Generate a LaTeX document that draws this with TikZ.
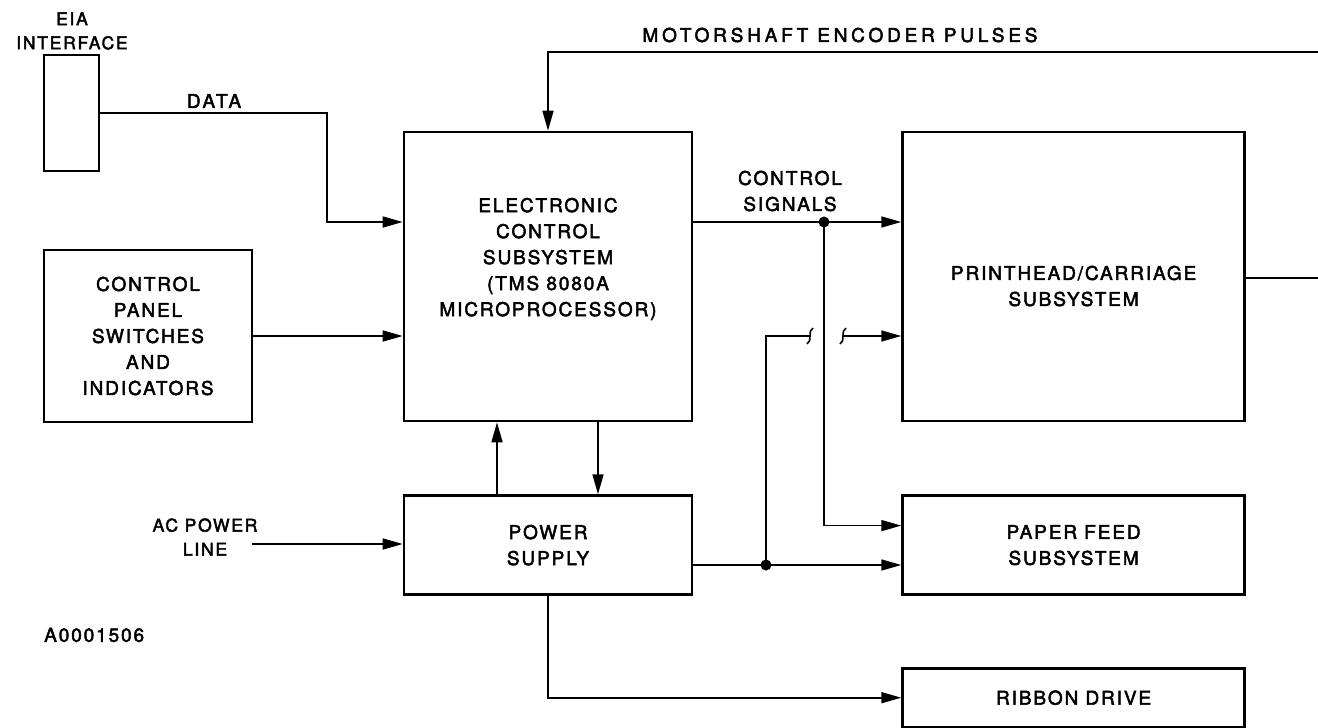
\documentclass[tikz,border=0pt]{standalone}
\usepackage{fontspec}
\setmainfont{TeX Gyre Heros}[LetterSpace=10, FakeBold=2.5]
\usetikzlibrary{arrows.meta, positioning}

\begin{document}
\begin{tikzpicture}[
    x=1pt, y=-1pt,
    font=\fontsize{19}{26}\selectfont,
    box/.style={
        draw,
        line width=2.6pt,
        align=center,
        inner sep=0pt
    },
    txt/.style={align=center, inner sep=0pt},
    small/.style={font=\fontsize{17.5}{24}\selectfont},
    arrow/.style={-{Triangle[length=20pt, width=11pt]}, line width=1.6pt},
    wire/.style={line width=1.6pt},
    node distance=74pt
]
\useasboundingbox (0,0) rectangle (1318,728);

% ------------------------
% Inputs (left)
% ------------------------
\node[box, minimum width=55pt, minimum height=116pt] (eia) at (71.5,113) {};
\node[txt, small] (eialabel) at (72,31) {EIA\\INTERFACE};

\node[box, minimum width=208pt, minimum height=172pt] (panel) at (148,336)
{CONTROL\\PANEL\\SWITCHES\\AND\\INDICATORS};

\node[txt, small] (acline) at (205,537) {AC POWER\\LINE};

% ------------------------
% Controller and power (middle)
% ------------------------
\node[box, minimum width=288pt, minimum height=289pt,
    label={[txt, yshift=17.5pt]center:{ELECTRONIC\\CONTROL\\SUBSYSTEM\\(TMS 8080A\\MICROPROCESSOR)}}
] (ecs) at (548,276.5) {};

\node[box, minimum width=288pt, minimum height=99pt, below=72pt of ecs] (power)
{POWER\\SUPPLY};

% ------------------------
% Mechanisms (right)
% ------------------------
\node[box, minimum width=342pt, minimum height=289pt, right=208pt of ecs,
    label={[txt, yshift=-9.5pt]center:{PRINTHEAD/CARRIAGE\\SUBSYSTEM}}
] (printhead) {};

\node[box, minimum width=342pt, minimum height=99pt, below=72pt of printhead] (paper)
{PAPER FEED\\SUBSYSTEM};

\node[box, minimum width=342pt, minimum height=59pt, below=71pt of paper] (ribbon)
{RIBBON DRIVE};

% ------------------------
% Labels
% ------------------------
\node[txt] (datalabel) at (214,101) {\addfontfeature{LetterSpace=14}DATA};
\node[txt] (ctllabel) at (790,191) {CONTROL\\SIGNALS};
\node[txt] (enclabel) at (840,35) {\addfontfeature{LetterSpace=20}MOTORSHAFT ENCODER PULSES};
\node[txt, anchor=west] (figid) at (44,635) {A0001506};

% ------------------------
% Arrows
% ------------------------
\coordinate (dataturn) at (327,113);
\coordinate (encin) at (1318,52);
\coordinate (encout) at (1318,278);
\coordinate (acin) at (252,544);
\coordinate (ctlsplit) at (824,222);
\coordinate (pwrsplit) at (766,565);
\coordinate (hopL) at (810,336);
\coordinate (hopR) at (843,336);

\draw[arrow] (eia.east) -- (dataturn) |- ([yshift=54.5pt]ecs.west);
\draw[arrow] (panel.east) -- (panel.east -| ecs.west);
\draw[arrow] (acin) -- (acin -| power.west);
\draw[arrow] (encin) -| (ecs.north);
\draw[wire] (printhead.east |- encout) -- (encout);
\draw[arrow] ([xshift=-51pt]power.north) -- ([xshift=-51pt]ecs.south);
\draw[arrow] ([xshift=50pt]ecs.south) -- ([xshift=50pt]power.north);
\draw[arrow] ([yshift=54.5pt]ecs.east) -- ([yshift=54.5pt]printhead.west);
\draw[arrow] (ctlsplit) |- ([yshift=19.5pt]paper.west);
\draw[arrow] (power.east |- pwrsplit) -- (paper.west |- pwrsplit);
\draw[wire] (pwrsplit) |- (hopL);
\draw[arrow] (hopR) -- (printhead.west |- hopR);
\draw[arrow] (power.south) |- (ribbon.west);

% line breaks where the supply crosses the control line
\draw[wire] ([shift={(3pt,8pt)}]hopL) .. controls ([shift={(-3pt,5pt)}]hopL) and ([shift={(3pt,-5pt)}]hopL) .. ([shift={(-3pt,-8pt)}]hopL);
\draw[wire] ([shift={(3pt,8pt)}]hopR) .. controls ([shift={(-3pt,5pt)}]hopR) and ([shift={(3pt,-5pt)}]hopR) .. ([shift={(-3pt,-8pt)}]hopR);

\fill (ctlsplit) circle (5.5pt);
\fill (pwrsplit) circle (5.5pt);

\end{tikzpicture}
\end{document}
